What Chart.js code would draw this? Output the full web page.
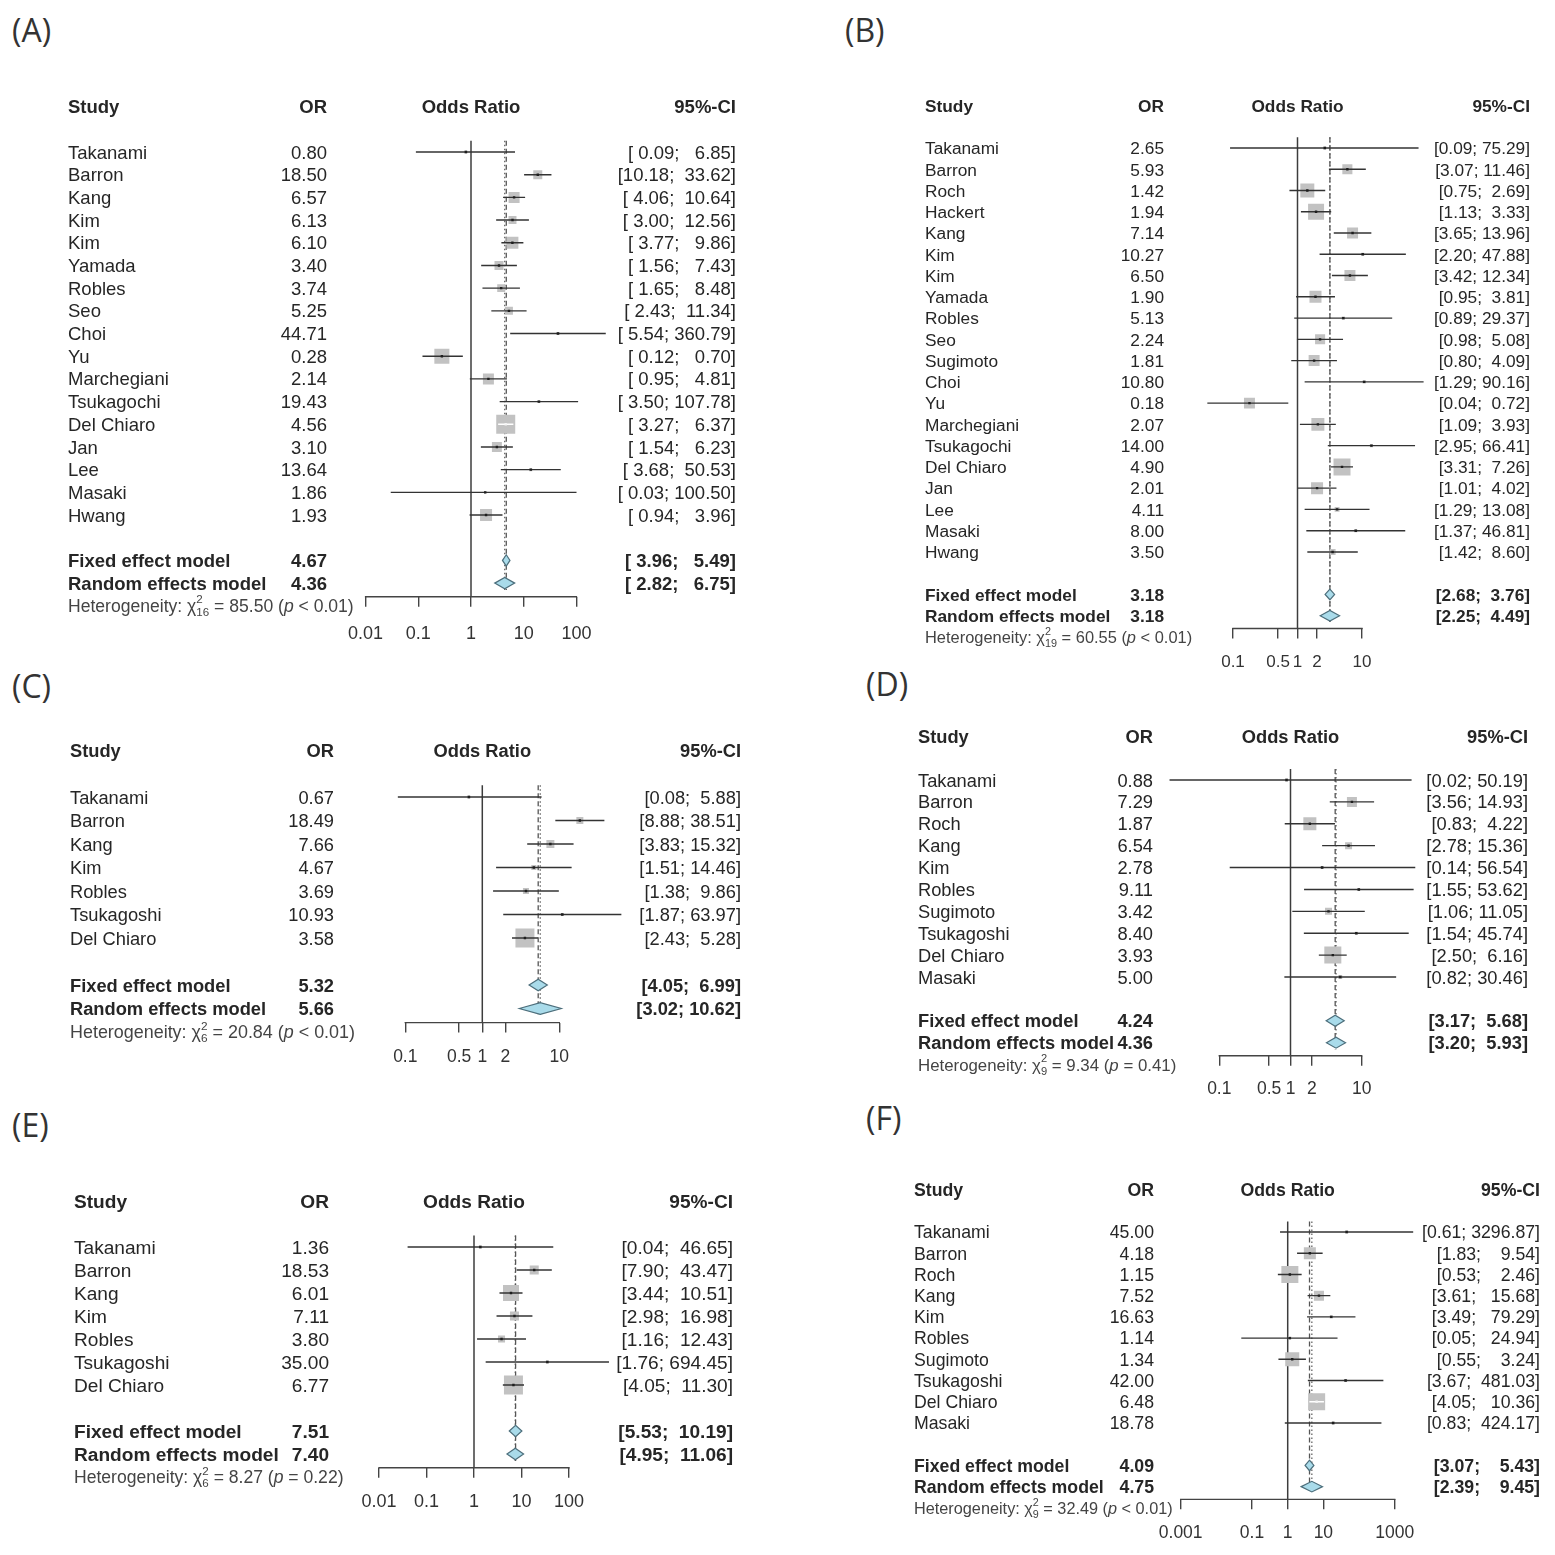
<!DOCTYPE html>
<html>
<head>
<meta charset="utf-8">
<script src="https://cdn.jsdelivr.net/npm/chart.js@4.4.0/dist/chart.umd.min.js"></script>
<style>
  body { margin: 0; background: #fff; }
  #page { position: relative; width: 1555px; height: 1555px; overflow: hidden; background: #fff; }
  .tag { position: absolute; font-family: "Open Sans", sans-serif; font-size: 32px; line-height: 32px; color: #333; }
  canvas { position: absolute; }
</style>
</head>
<body>
<div id="page">
  <div class="tag" style="left:12px;top:14px">(A)</div>
  <div class="tag" style="left:845px;top:14px">(B)</div>
  <div class="tag" style="left:12px;top:670px">(C)</div>
  <div class="tag" style="left:866px;top:668px">(D)</div>
  <div class="tag" style="left:12px;top:1109px">(E)</div>
  <div class="tag" style="left:866px;top:1102px">(F)</div>
  <canvas id="chartA"></canvas>
  <canvas id="chartB"></canvas>
  <canvas id="chartC"></canvas>
  <canvas id="chartD"></canvas>
  <canvas id="chartE"></canvas>
  <canvas id="chartF"></canvas>
</div>
<script>
// ---- panel A ----
const studiesA = ['Takanami', 'Barron', 'Kang', 'Kim', 'Kim', 'Yamada', 'Robles', 'Seo', 'Choi', 'Yu',
  'Marchegiani', 'Tsukagochi', 'Del Chiaro', 'Jan', 'Lee', 'Masaki', 'Hwang'];
const orA = [0.80, 18.50, 6.57, 6.13, 6.10, 3.40, 3.74, 5.25, 44.71, 0.28, 2.14, 19.43, 4.56, 3.10, 13.64, 1.86, 1.93];
const lowerA = [0.09, 10.18, 4.06, 3.00, 3.77, 1.56, 1.65, 2.43, 5.54, 0.12, 0.95, 3.50, 3.27, 1.54, 3.68, 0.03, 0.94];
const upperA = [6.85, 33.62, 10.64, 12.56, 9.86, 7.43, 8.48, 11.34, 360.79, 0.70, 4.81, 107.78, 6.37, 6.23, 50.53, 100.50, 3.96];
const weightA = [0.5, 4.5, 6.7, 3.5, 8.0, 4.5, 3.5, 3.5, 0.5, 12.5, 6.7, 0.5, 20, 5.5, 0.5, 0.3, 8.0];
const fixedA = [4.67, 3.96, 5.49];
const randomA = [4.36, 2.82, 6.75];
const hetA = [16, 85.50, '< 0.01'];
const ticksA = [0.01, 0.1, 1, 10, 100];
const tickLabelsA = ['0.01', '0.1', '1', '10', '100'];

// ---- panel B ----
const studiesB = ['Takanami', 'Barron', 'Roch', 'Hackert', 'Kang', 'Kim', 'Kim', 'Yamada', 'Robles', 'Seo',
  'Sugimoto', 'Choi', 'Yu', 'Marchegiani', 'Tsukagochi', 'Del Chiaro', 'Jan', 'Lee', 'Masaki', 'Hwang'];
const orB = [2.65, 5.93, 1.42, 1.94, 7.14, 10.27, 6.50, 1.90, 5.13, 2.24, 1.81, 10.80, 0.18, 2.07, 14.00, 4.90, 2.01, 4.11, 8.00, 3.50];
const lowerB = [0.09, 3.07, 0.75, 1.13, 3.65, 2.20, 3.42, 0.95, 0.89, 0.98, 0.80, 1.29, 0.04, 1.09, 2.95, 3.31, 1.01, 1.29, 1.37, 1.42];
const upperB = [75.29, 11.46, 2.69, 3.33, 13.96, 47.88, 12.34, 3.81, 29.37, 5.08, 4.09, 90.16, 0.72, 3.93, 66.41, 7.26, 4.02, 13.08, 46.81, 8.60];
const weightB = [0.4, 4.2, 8.1, 10.6, 5.0, 0.4, 5.0, 6.0, 0.4, 4.2, 5.0, 0.4, 5.0, 7.0, 0.4, 12, 6.0, 1.0, 0.4, 1.5];
const fixedB = [3.18, 2.68, 3.76];
const randomB = [3.18, 2.25, 4.49];
const hetB = [19, 60.55, '< 0.01'];
const ticksB = [0.1, 0.5, 1, 2, 10];
const tickLabelsB = ['0.1', '0.5', '1', '2', '10'];

// ---- panel C ----
const studiesC = ['Takanami', 'Barron', 'Kang', 'Kim', 'Robles', 'Tsukagoshi', 'Del Chiaro'];
const orC = [0.67, 18.49, 7.66, 4.67, 3.69, 10.93, 3.58];
const lowerC = [0.08, 8.88, 3.83, 1.51, 1.38, 1.87, 2.43];
const upperC = [5.88, 38.51, 15.32, 14.46, 9.86, 63.97, 5.28];
const weightC = [1.5, 8.1, 10.6, 4.2, 6.0, 1.5, 60];
const fixedC = [5.32, 4.05, 6.99];
const randomC = [5.66, 3.02, 10.62];
const hetC = [6, 20.84, '< 0.01'];
const ticksC = [0.1, 0.5, 1, 2, 10];
const tickLabelsC = ['0.1', '0.5', '1', '2', '10'];

// ---- panel D ----
const studiesD = ['Takanami', 'Barron', 'Roch', 'Kang', 'Kim', 'Robles', 'Sugimoto', 'Tsukagoshi', 'Del Chiaro', 'Masaki'];
const orD = [0.88, 7.29, 1.87, 6.54, 2.78, 9.11, 3.42, 8.40, 3.93, 5.00];
const lowerD = [0.02, 3.56, 0.83, 2.78, 0.14, 1.55, 1.06, 1.54, 2.50, 0.82];
const upperD = [50.19, 14.93, 4.22, 15.36, 56.54, 53.62, 11.05, 45.74, 6.16, 30.46];
const weightD = [1.1, 12.1, 20.5, 5.9, 1.1, 1.1, 5.9, 1.1, 35, 1.9];
const fixedD = [4.24, 3.17, 5.68];
const randomD = [4.36, 3.20, 5.93];
const hetD = [9, 9.34, '= 0.41'];
const ticksD = [0.1, 0.5, 1, 2, 10];
const tickLabelsD = ['0.1', '0.5', '1', '2', '10'];

// ---- panel E ----
const studiesE = ['Takanami', 'Barron', 'Kang', 'Kim', 'Robles', 'Tsukagoshi', 'Del Chiaro'];
const orE = [1.36, 18.53, 6.01, 7.11, 3.80, 35.00, 6.77];
const lowerE = [0.04, 7.90, 3.44, 2.98, 1.16, 1.76, 4.05];
const upperE = [46.65, 43.47, 10.51, 16.98, 12.43, 694.45, 11.30];
const weightE = [0.9, 7.9, 24.8, 7.9, 4.8, 0.9, 35];
const fixedE = [7.51, 5.53, 10.19];
const randomE = [7.40, 4.95, 11.06];
const hetE = [6, 8.27, '= 0.22'];
const ticksE = [0.01, 0.1, 1, 10, 100];
const tickLabelsE = ['0.01', '0.1', '1', '10', '100'];

// ---- panel F ----
const studiesF = ['Takanami', 'Barron', 'Roch', 'Kang', 'Kim', 'Robles', 'Sugimoto', 'Tsukagoshi', 'Del Chiaro', 'Masaki'];
const orF = [45.00, 4.18, 1.15, 7.52, 16.63, 1.14, 1.34, 42.00, 6.48, 18.78];
const lowerF = [0.61, 1.83, 0.53, 3.61, 3.49, 0.05, 0.55, 3.67, 4.05, 0.83];
const upperF = [3296.87, 9.54, 2.46, 15.68, 79.29, 24.94, 3.24, 481.03, 10.36, 424.17];
const weightF = [0.8, 12.5, 25, 8.7, 0.8, 0.8, 17, 0.8, 25, 0.8];
const fixedF = [4.09, 3.07, 5.43];
const randomF = [4.75, 2.39, 9.45];
const hetF = [9, 32.49, '< 0.01'];
const ticksF = [0.001, 0.1, 1, 10, 1000];
const tickLabelsF = ['0.001', '0.1', '1', '10', '1000'];

// page placement of each panel (pixels)
const layoutA = { box: [40, 80, 770, 580], one: 471, decade: 52.7, row0: 152, rowH: 22.69, plot: [340, 615], cols: [68, 327, 736], font: 18.5, hetScale: 0.95, tickFont: 18, maxSide: 19, tickPad: 17 };
const layoutB = { box: [880, 80, 670, 600], one: 1297.5, decade: 64.5, row0: 148, rowH: 21.26, plot: [1200, 1430], cols: [925, 1164, 1530], font: 17.3, hetScale: 0.95, tickFont: 17, maxSide: 17, tickPad: 14 };
const layoutC = { box: [40, 720, 770, 370], one: 482.3, decade: 77, row0: 797, rowH: 23.5, plot: [385, 632], cols: [70, 334, 741], font: 18.3, hetScale: 0.98, tickFont: 17.5, maxSide: 19, tickPad: 14 };
const layoutD = { box: [880, 710, 670, 400], one: 1290.5, decade: 71.2, row0: 780, rowH: 21.89, plot: [1160, 1420], cols: [918, 1153, 1528], font: 18.3, hetScale: 0.92, tickFont: 17.5, maxSide: 17, tickPad: 13 };
const layoutE = { box: [40, 1170, 770, 360], one: 474, decade: 47.5, row0: 1247, rowH: 23, plot: [350, 615], cols: [74, 329, 733], font: 19.1, hetScale: 0.92, tickFont: 18, maxSide: 19, tickPad: 13 };
const layoutF = { box: [880, 1160, 670, 390], one: 1287.7, decade: 35.67, row0: 1232, rowH: 21.22, plot: [1150, 1425], cols: [914, 1154, 1540], font: 17.7, hetScale: 0.92, tickFont: 17.5, maxSide: 17, tickPad: 13 };

const FONT = '"Liberation Sans", Arial, Helvetica, sans-serif';
const TEXT = '#262626';
const TEXT_DY = 1.5;

function ciText(lo, hi, wl, wh) {
  return '[' + lo.toFixed(2).padStart(wl) + '; ' + hi.toFixed(2).padStart(wh) + ']';
}

function drawHet(ctx, x0, yc, size, het) {
  let x = x0;
  const put = (t, f, dy) => { ctx.font = f; ctx.fillText(t, x, yc + (dy || 0)); return ctx.measureText(t).width; };
  const big = size + 'px ' + FONT, small = (size * 0.66) + 'px ' + FONT;
  x += put('Heterogeneity: ', big);
  x += put('χ', big);
  const w2 = put('2', small, -size * 0.4);
  const wd = put(String(het[0]), small, size * 0.32);
  x += Math.max(w2, wd);
  x += put(' = ' + het[1].toFixed(2) + ' (', big);
  x += put('p', 'italic ' + big);
  put(' ' + het[2] + ')', big);
}

function forest(id, d, L) {
  const n = d.names.length;
  const [bx, by, bw, bh] = L.box;
  const canvas = document.getElementById(id);
  canvas.width = bw; canvas.height = bh;
  canvas.style.left = bx + 'px'; canvas.style.top = by + 'px';
  canvas.style.width = bw + 'px'; canvas.style.height = bh + 'px';

  const topRow = -2.7, axisRow = n + 2.6, axisH = 50;
  const xMin = Math.pow(10, (L.plot[0] - L.one) / L.decade);
  const xMax = Math.pow(10, (L.plot[1] - L.one) / L.decade);
  const top = L.row0 + topRow * L.rowH, bottom = L.row0 + axisRow * L.rowH;
  const pad = { left: L.plot[0] - bx, right: bx + bw - L.plot[1], top: top - by, bottom: by + bh - bottom - axisH };

  const rows = d.names.map((_, i) => i);
  const wMax = Math.max(...d.weight);
  const side = i => L.maxSide * Math.sqrt(d.weight[i] / wMax);
  const ciLine = [];
  rows.forEach(i => { ciLine.push({ x: d.lower[i], y: i }, { x: d.upper[i], y: i }, { x: 1, y: null }); });
  const est = rows.map(i => ({ x: d.or[i], y: i }));
  const inside = i => (Math.log10(d.upper[i] / d.lower[i]) * L.decade) < side(i);

  // widths for padded CI strings
  const los = d.lower.concat([d.fixed[1], d.random[1]]).map(v => v.toFixed(2).length);
  const his = d.upper.concat([d.fixed[2], d.random[2]]).map(v => v.toFixed(2).length);
  const wl = Math.max(...los), wh = Math.max(...his);

  const drawExtras = chart => {
    const { ctx, scales: { x, y } } = chart;
    const rh = y.getPixelForValue(1) - y.getPixelForValue(0);
    // diamonds
    [[d.fixed, n + 1], [d.random, n + 2]].forEach(([p, r]) => {
      const xl = x.getPixelForValue(p[1]), xm = x.getPixelForValue(p[0]), xr = x.getPixelForValue(p[2]);
      const yc = y.getPixelForValue(r), h = rh * 0.25;
      ctx.save();
      ctx.beginPath();
      ctx.moveTo(xl, yc); ctx.lineTo(xm, yc - h); ctx.lineTo(xr, yc); ctx.lineTo(xm, yc + h); ctx.closePath();
      ctx.fillStyle = '#a9dbea'; ctx.fill();
      ctx.strokeStyle = '#4d6f7c'; ctx.lineWidth = 1.2; ctx.stroke();
      ctx.restore();
    });
    // axis line between first and last tick
    ctx.save();
    ctx.strokeStyle = '#444'; ctx.lineWidth = 1.4;
    ctx.beginPath();
    ctx.moveTo(x.getPixelForValue(d.ticks[0]) - 0.7, chart.chartArea.bottom);
    ctx.lineTo(x.getPixelForValue(d.ticks[d.ticks.length - 1]) + 0.7, chart.chartArea.bottom);
    ctx.stroke();
    ctx.restore();
  };

  const drawText = chart => {
    const { ctx, scales: { x, y } } = chart;
    const ox = bx;
    const reg = L.font + 'px ' + FONT, bold = 'bold ' + L.font + 'px ' + FONT;
    const cS = L.cols[0] - ox, cO = L.cols[1] - ox, cC = L.cols[2] - ox;
    const rowY = r => y.getPixelForValue(r) + TEXT_DY;
    ctx.save();
    ctx.fillStyle = TEXT;
    ctx.textBaseline = 'middle';
    // header
    const yh = rowY(-2);
    ctx.font = bold;
    ctx.textAlign = 'left'; ctx.fillText('Study', cS, yh);
    ctx.textAlign = 'right'; ctx.fillText('OR', cO, yh); ctx.fillText('95%-CI', cC, yh);
    ctx.textAlign = 'center';
    const mid = Math.sqrt(d.ticks[0] * d.ticks[d.ticks.length - 1]);
    ctx.fillText('Odds Ratio', x.getPixelForValue(mid), yh);
    // studies
    ctx.font = reg;
    rows.forEach(i => {
      const yr = rowY(i);
      ctx.textAlign = 'left'; ctx.fillText(d.names[i], cS, yr);
      ctx.textAlign = 'right'; ctx.fillText(d.or[i].toFixed(2), cO, yr);
      ctx.fillText(ciText(d.lower[i], d.upper[i], wl, wh), cC, yr);
    });
    // pooled
    ctx.font = bold;
    [['Fixed effect model', d.fixed, n + 1], ['Random effects model', d.random, n + 2]].forEach(([lab, p, r]) => {
      const yr = rowY(r);
      ctx.textAlign = 'left'; ctx.fillText(lab, cS, yr);
      ctx.textAlign = 'right'; ctx.fillText(p[0].toFixed(2), cO, yr);
      ctx.fillText(ciText(p[1], p[2], wl, wh), cC, yr);
    });
    // heterogeneity
    ctx.fillStyle = '#444';
    ctx.textAlign = 'left';
    drawHet(ctx, cS, rowY(n + 3), L.font * L.hetScale, d.het);
    ctx.restore();
  };

  new Chart(canvas, {
    type: 'scatter',
    data: {
      datasets: [
        { type: 'scatter', data: est, pointStyle: 'rect', pointRadius: 1.7, borderWidth: 0,
          backgroundColor: c => inside(c.dataIndex) ? '#f4f4f4' : '#1e1e1e' },
        { type: 'line', data: ciLine, borderWidth: 1.4, pointRadius: 0, spanGaps: false, fill: false,
          borderColor: '#333',
          segment: { borderColor: c => inside(Math.floor(c.p0DataIndex / 3)) ? '#ffffff' : '#333' } },
        { type: 'scatter', data: est, pointStyle: 'rect', borderWidth: 0, backgroundColor: '#c2c2c2',
          pointRadius: c => side(c.dataIndex) / Math.SQRT2 },
        { type: 'line', data: [{ x: 1, y: -0.5 }, { x: 1, y: axisRow }], borderColor: '#3c3c3c', borderWidth: 1.5, pointRadius: 0 },
        { type: 'line', data: [{ x: d.fixed[0], y: -0.5 }, { x: d.fixed[0], y: n + 2.3 }], borderColor: '#555', borderWidth: 1.3, borderDash: [5, 3], pointRadius: 0 },
        { type: 'line', data: [{ x: d.random[0], y: -0.5 }, { x: d.random[0], y: n + 2.3 }], borderColor: '#666', borderWidth: 1.3, borderDash: [1.5, 2.5], pointRadius: 0 }
      ]
    },
    options: {
      responsive: false,
      animation: false,
      devicePixelRatio: 1,
      events: [],
      layout: { padding: pad, autoPadding: false },
      plugins: { legend: { display: false }, tooltip: { enabled: false } },
      scales: {
        x: {
          type: 'logarithmic', position: 'bottom', min: xMin, max: xMax,
          border: { display: false },
          grid: { drawOnChartArea: false, drawTicks: true, tickLength: 10, color: '#444', lineWidth: 1.4 },
          afterBuildTicks: s => { s.ticks = d.ticks.map(v => ({ value: v })); },
          afterFit: s => { s.height = axisH; },
          ticks: { autoSkip: false, maxRotation: 0, minRotation: 0, padding: L.tickPad, color: '#333',
            font: { family: FONT, size: L.tickFont }, callback: (v, i) => d.tickLabels[i] }
        },
        y: { type: 'linear', display: false, reverse: true, min: topRow, max: axisRow }
      }
    },
    plugins: [{ id: 'forestExtras', afterDatasetsDraw: drawExtras, afterDraw: drawText }]
  });
}

forest('chartA', { names: studiesA, or: orA, lower: lowerA, upper: upperA, weight: weightA, fixed: fixedA, random: randomA, het: hetA, ticks: ticksA, tickLabels: tickLabelsA }, layoutA);
forest('chartB', { names: studiesB, or: orB, lower: lowerB, upper: upperB, weight: weightB, fixed: fixedB, random: randomB, het: hetB, ticks: ticksB, tickLabels: tickLabelsB }, layoutB);
forest('chartC', { names: studiesC, or: orC, lower: lowerC, upper: upperC, weight: weightC, fixed: fixedC, random: randomC, het: hetC, ticks: ticksC, tickLabels: tickLabelsC }, layoutC);
forest('chartD', { names: studiesD, or: orD, lower: lowerD, upper: upperD, weight: weightD, fixed: fixedD, random: randomD, het: hetD, ticks: ticksD, tickLabels: tickLabelsD }, layoutD);
forest('chartE', { names: studiesE, or: orE, lower: lowerE, upper: upperE, weight: weightE, fixed: fixedE, random: randomE, het: hetE, ticks: ticksE, tickLabels: tickLabelsE }, layoutE);
forest('chartF', { names: studiesF, or: orF, lower: lowerF, upper: upperF, weight: weightF, fixed: fixedF, random: randomF, het: hetF, ticks: ticksF, tickLabels: tickLabelsF }, layoutF);
</script>
</body>
</html>
